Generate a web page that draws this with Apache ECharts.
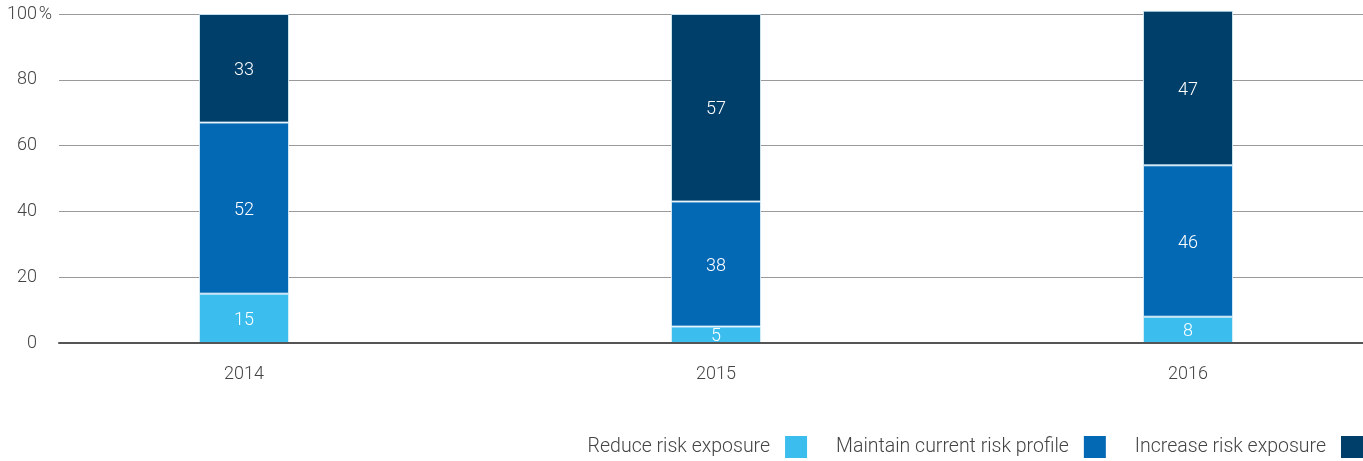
<!DOCTYPE html>
<html>
<head>
<meta charset="utf-8">
<script src="https://cdn.jsdelivr.net/npm/echarts@6/dist/echarts.min.js"></script>
<style>
  html, body { margin: 0; padding: 0; background: #fff; }
  #chart { width: 1363px; height: 461px; }
</style>
</head>
<body>
<div id="chart"></div>
<script>
// Risk appetite survey: share of respondents per year (%)
const years = ['2014', '2015', '2016'];
const reduceRisk = [15, 5, 8];
const maintainRisk = [52, 38, 46];
const increaseRisk = [33, 57, 47];
const yTicks = [0, 20, 40, 60, 80, 100];

const seriesNames = ['Reduce risk exposure', 'Maintain current risk profile', 'Increase risk exposure'];
const seriesColors = ['#3bbdee', '#0469b5', '#013f6b'];
const seriesData = [reduceRisk, maintainRisk, increaseRisk];

const font = 'Roboto, "Liberation Sans", sans-serif';

const chart = echarts.init(document.getElementById('chart'));

chart.setOption({
  animation: false,
  backgroundColor: '#fff',
  grid: [
    // bars
    { left: 8, width: 1416, top: 14, bottom: 118, outerBoundsMode: 'none', containLabel: false },
    // value scale, gridlines and baseline
    { left: 59, right: 0, top: 14, bottom: 118, outerBoundsMode: 'none', containLabel: false }
  ],
  legend: {
    right: 0,
    top: 436,
    padding: 0,
    align: 'right',
    itemWidth: 22,
    itemHeight: 22,
    itemGap: 29,
    icon: 'rect',
    itemStyle: { borderWidth: 0 },
    textStyle: { fontFamily: font, fontSize: 19.5, fontWeight: 300, color: '#444', padding: [0, 10, 0, 0] },
    data: seriesNames
  },
  xAxis: [
    {
      type: 'category',
      gridIndex: 0,
      data: years,
      axisLine: { show: false },
      axisTick: { show: false },
      axisLabel: { margin: 22, fontFamily: font, fontSize: 18, fontWeight: 300, color: '#444' }
    },
    {
      type: 'value',
      gridIndex: 1,
      min: 0,
      max: 1,
      z: 10,
      axisLine: { show: true, lineStyle: { color: '#555', width: 2 } },
      axisTick: { show: false },
      axisLabel: { show: false },
      splitLine: { show: false }
    }
  ],
  yAxis: [
    {
      type: 'value',
      gridIndex: 0,
      min: 0,
      max: 100,
      interval: 20,
      show: false,
      splitLine: { show: false }
    },
    {
      type: 'value',
      gridIndex: 1,
      min: yTicks[0],
      max: yTicks[yTicks.length - 1],
      interval: 20,
      axisLine: { show: false },
      axisTick: { show: false },
      splitLine: { show: true, lineStyle: { color: '#9a9a9a', width: 1 } },
      axisLabel: {
        margin: 5,
        align: 'right',
        formatter: function (v) {
          return v === 100 ? '{n|' + v + '}{s|%}' : '{n|' + v + '}{s| }';
        },
        rich: {
          n: { fontFamily: font, fontSize: 18, fontWeight: 300, color: '#444' },
          s: { fontFamily: font, fontSize: 18, fontWeight: 300, color: '#444', width: 17, align: 'left' }
        }
      }
    }
  ],
  series: seriesNames.map(function (name, i) {
    return {
      name: name,
      type: 'bar',
      stack: 'total',
      xAxisIndex: 0,
      yAxisIndex: 0,
      barWidth: 90,
      clip: false,
      data: seriesData[i],
      itemStyle: { color: seriesColors[i], borderColor: 'rgba(220,238,250,0.85)', borderWidth: 1 },
      label: {
        show: true,
        position: 'inside',
        offset: [0, 2],
        color: '#fff',
        fontFamily: font,
        fontSize: 18,
        fontWeight: 300
      }
    };
  })
});
</script>
</body>
</html>
